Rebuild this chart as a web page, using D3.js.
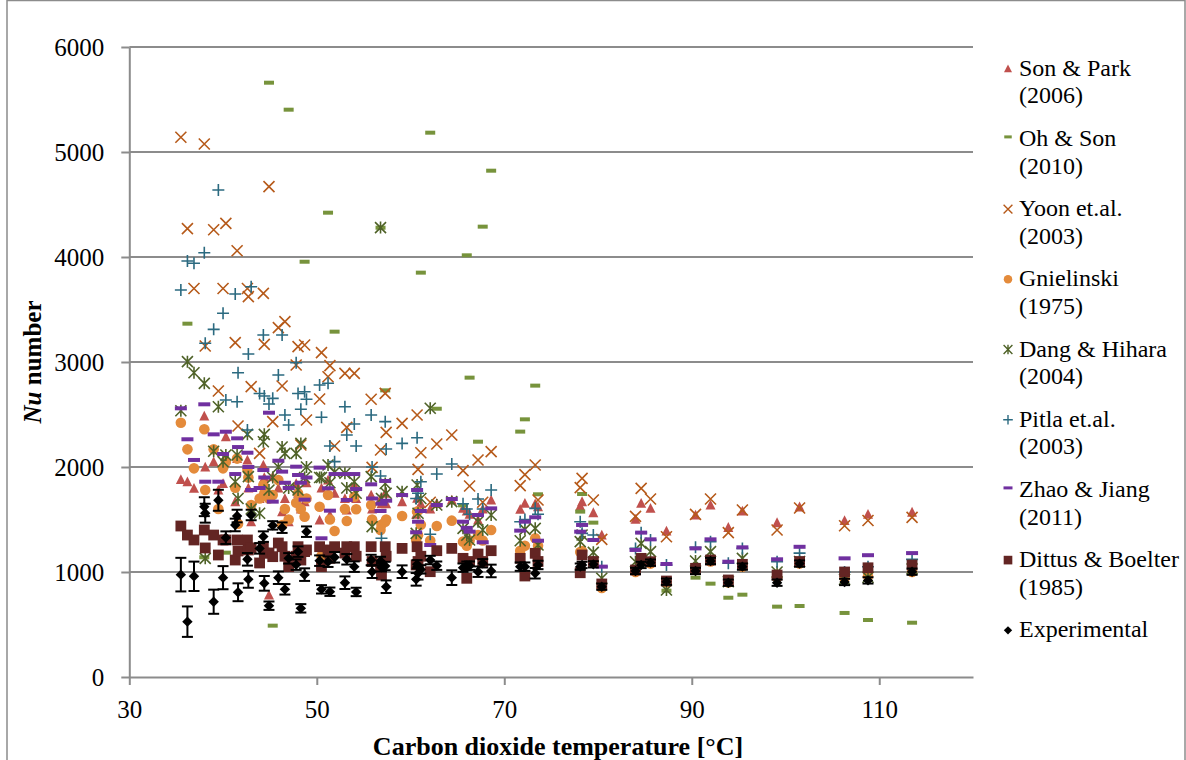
<!DOCTYPE html>
<html>
<head>
<meta charset="utf-8">
<script src="https://cdn.jsdelivr.net/npm/d3@7"></script>
<style>
  body { margin: 0; background: #fff; }
  svg { display: block; }
</style>
</head>
<body>
<svg id="chart" width="1186" height="760"></svg>
<script>
// CO2 temperature of each test point [°C]
let temps = [35.5, 36.2, 36.9, 38.0, 38.1, 39.0, 39.5, 40.0, 40.3, 41.3,
  41.5, 41.6, 42.6, 42.7, 43.0, 43.9, 44.3, 44.4, 44.9, 45.3,
  45.9, 46.3, 46.6, 47.0, 47.8, 48.0, 48.3, 48.7, 48.9, 50.3,
  50.5, 51.2, 51.4, 51.9, 53.0, 53.2, 54.0, 54.2, 55.8, 55.9,
  56.8, 56.9, 57.3, 57.4, 59.1, 60.6, 60.7, 60.8, 61.1, 62.1,
  62.8, 64.4, 65.6, 66.0, 66.3, 67.2, 67.7, 68.6, 71.7, 72.2,
  73.3, 73.6, 78.1, 78.3, 79.5, 80.4, 84.0, 84.6, 85.6, 87.3,
  90.4, 92.0, 93.9, 95.4, 99.1, 101.5, 106.3, 108.8, 113.5];

let sonPark = [1880, 1860, 1797, 2486, 2000, 2050, 1780, 1843, 2289, 1670,
  2080, 1500, 2067, 1800, 1479, 1700, 2019, 1900, 781, 1908,
  1800, 1575, 1700, 1479, 1843, 1750, 1600, 1670, 1850, 1495,
  1800, 1876, 1543, 1750, 1700, 1590, 1829, 1700, 1733, 1600,
  1700, 1650, 1749, 1650, 1670, 1550, 1702, 1600, 1650, 1600,
  1654, 1686, 1606, 1580, 1550, 1495, 1600, 1686, 1597, 1654,
  1650, 1622, 1629, 1670, 1565, 1352, 1502, 1654, 1606, 1390,
  1543, 1638, 1425, 1581, 1470, 1620, 1490, 1550, 1570];

let ohSon = [null, 3365, null, 1140, null, null, null, null, 1184, null,
  null, null, null, null, null, null, null, null, 5660, 489,
  null, null, null, 5403, null, null, null, 3955, null, null,
  null, 4422, null, 3289, null, null, null, null, null, null,
  4279, null, 2730, null, null, null, null, null, 3851, 5184,
  2555, null, 1635, 4016, 2851, 2241, 4289, 4822, 2337, 2454,
  2775, 1740, 1575, 1743, 1470, 870, null, null, 1089, 822,
  946, 889, 755, 784, 670, 676, 610, 543, 517];

let yoon = [5140, 4270, 3700, 5076, 3152, 4260, 2724, 3700, 4320, 3184,
  4060, 2390, 3700, 3622, 2765, 2130, 3654, 3168, 4670, 2432,
  3327, 2771, 3384, null, 2971, 3146, 2210, 3162, 2448, 2648,
  3089, 2860, 2965, 2200, 2892, 2378, 2892, null, 2645, 1997,
  2162, null, 2701, 2330, 2416, null, 2495, 1978, 2136, 1664,
  2219, 2305, 1965, null, 1819, 2067, 1664, 2146, 1822, 1927,
  2019, 1686, 1803, 1892, 1686, 1311, 1530, 1797, 1695, 1336,
  1549, 1695, 1375, 1590, 1400, 1610, 1440, 1490, 1520];

let gnielinski = [2422, 2168, 1987, 2359, 1781, 2168, 1600, 1987, 2050, 1803,
  2080, 1460, 1971, 1900, 1638, 1700, 1829, 1750, 1700, 1733,
  1876, 1448, 1600, 1500, 1660, 1750, 1600, 1527, 1700, 1622,
  1155, 1733, 1500, 1390, 1600, 1486, 1717, 1597, 1638, 1500,
  1400, 1450, 1479, 1500, 1533, 1305, 1575, 1350, 1450, 1300,
  1438, 1489, 1289, 1250, 1300, 1352, 1300, 1400, 1203, 1250,
  1321, 1250, 1190, 1200, 1100, 848, 1000, 1100, 1080, 900,
  1020, 1100, 900, 1050, 950, 1080, 940, 960, 1000];

let dangHihara = [2536, 3003, 2898, 2797, 1130, 2150, 2574, 2050, 2114, 1860,
  2114, 1700, 2311, 1908, 1600, 1559, 2241, 2311, 1781, 1900,
  2000, 2190, 2130, 1800, 2130, 1781, 2225, 1900, 2000, 1900,
  1900, 2019, 1850, 1950, 1940, 1800, 1860, 1750, 1908, 1432,
  4280, 1700, 1843, 1750, 1765, 1368, 1829, 1559, 1700, 2559,
  1638, 1670, 1416, 1350, 1305, 1479, 1400, 1543, 1298, 1406,
  1416, 1257, 1289, 1352, 1187, 940, 1098, 1273, 1194, 829,
  1105, 1194, 908, 1130, 1000, 1100, 930, 950, 1030];

let pitla = [3686, 3962, 3940, 4041, 3178, 3311, 4638, 3464, 2638, 3648,
  2622, 2898, 2352, 3076, 3717, 2700, 3257, 2676, 2600, 2654,
  2876, 3257, 2495, 2400, 2993, 2700, 2550, 2717, 2645, 2781,
  2474, 2797, 2200, 2051, 2574, 2305, 2410, 2200, 2495, 2000,
  1914, 1321, 2432, 2171, 2225, 1700, 2279, 1750, 1860, 1359,
  1933, 2029, 1650, 1600, 1550, 1695, 1600, 1781, 1479, 1500,
  1606, 1550, 1479, 1368, 1352, 1051, 1225, 1375, 1305, 1067,
  1235, 1289, 1083, 1225, 1098, 1180, 1000, 1050, 1120];

let zhaoJiang = [2559, 2264, 2067, 2597, 1860, 2311, 1860, 2124, 2336, 1933,
  2273, 2190, 2136, 2000, 1781, 1800, 1971, 1900, 2517, 1670,
  2060, 1956, 1850, 1800, 2003, 1924, 1850, 1689, 1900, 1994,
  1321, 1797, 1584, 1933, 1933, 1686, 1933, 1790, 1835, 1700,
  1581, 1650, 1867, 1679, 1733, 1378, 1781, 1479, 1581, 1257,
  1638, 1695, 1479, 1420, 1384, 1543, 1283, 1606, 1394, 1479,
  1521, 1298, 1384, 1448, 1305, 1051, 1210, 1375, 1311, 1076,
  1225, 1311, 1098, 1235, 1121, 1240, 1130, 1160, 1180];

let dittusBoelter = [1438, 1352, 1305, 1400, 1229, 1352, 1162, 1305, 1305, 1114,
  1305, 1200, 1305, 1210, 1230, 1086, 1240, 1180, 1181, 1146,
  1276, 1241, 1150, 1051, 1150, 1241, 1114, 1194, 1210, 1241,
  1051, 1210, 1130, 1241, 1180, 1241, 1241, 1150, 1241, 1100,
  1051, 971, 1241, 1150, 1225, 1067, 1241, 1100, 1150, 1003,
  1203, 1225, 1130, 940, 1100, 1171, 1100, 1203, 1130, 962,
  1178, 1100, 993, 1162, 1100, 886, 1019, 1130, 1098, 914,
  1035, 1114, 924, 1073, 971, 1100, 1000, 1040, 1067];

let experimental = [975, 527, 959, 1622, 1560, 717, 1683, 946, 1327, 1448,
  1533, 807, 1121, 930, 1543, 1225, 1337, 892, 679, 1444,
  946, 1422, 835, 1130, 1070, 1194, 654, 975, 1384, 1108,
  835, 1098, 812, 1140, 898, 1121, 1051, 810, 1114, 1003,
  1105, 1045, 1057, 860, 1003, 930, 1073, 988, 1025, 1114,
  1060, 946, 1041, 1060, 1060, 1003, 1083, 1010, 1051, 1051,
  988, 1067, 1051, 1067, 1073, 860, 1010, 1067, 1089, 908,
  1010, 1105, 898, 1051, 898, 1080, 905, 920, 1003];

// +/- uncertainty of the experimental Nu
let expError = [160, 145, 140, 90, 90, 115, 100, 110, 60, 60,
  60, 85, 60, 80, 50, 50, 50, 70, 40, 40,
  60, 50, 50, 50, 50, 50, 40, 60, 50, 50,
  40, 50, 40, 50, 60, 50, 50, 40, 50, 60,
  40, 40, 40, 60, 60, 60, 40, 60, 40, 40,
  40, 70, 40, 40, 40, 50, 40, 60, 40, 40,
  50, 40, 30, 30, 30, 30, 30, 30, 30, 30,
  30, 30, 30, 30, 30, 30, 30, 30, 30];

let xTicks = [30, 50, 70, 90, 110];
let yTicks = [0, 1000, 2000, 3000, 4000, 5000, 6000];

let series = [
  { name: ["Son & Park", "(2006)"], values: sonPark, marker: "triangle", color: "#C0504D" },
  { name: ["Oh & Son", "(2010)"], values: ohSon, marker: "dashS", color: "#77933C" },
  { name: ["Yoon et.al.", "(2003)"], values: yoon, marker: "cross", color: "#B65A1A" },
  { name: ["Gnielinski", "(1975)"], values: gnielinski, marker: "circle", color: "#E48B3B" },
  { name: ["Dang & Hihara", "(2004)"], values: dangHihara, marker: "star", color: "#4F6228" },
  { name: ["Pitla et.al.", "(2003)"], values: pitla, marker: "plus", color: "#2B6A80" },
  { name: ["Zhao & Jiang", "(2011)"], values: zhaoJiang, marker: "dashL", color: "#7030A0" },
  { name: ["Dittus & Boelter", "(1985)"], values: dittusBoelter, marker: "square", color: "#632523" },
  { name: ["Experimental"], values: experimental, marker: "diamond", color: "#000000" }
];

let serif = "'Liberation Serif'";
let svg = d3.select("#chart");
let gray = "#8c8c8c";

let x = d3.scaleLinear().domain([30, 120]).range([129.3, 973]);
let y = d3.scaleLinear().domain([0, 6000]).range([677, 47]);

function label(parent, px, py, size, str, anchor, weight) {
  return parent.append("text")
    .attr("x", px).attr("y", py)
    .attr("text-anchor", anchor || "start")
    .style("font-family", serif)
    .style("font-size", size + "px")
    .style("font-weight", weight || "normal")
    .style("fill", "#000")
    .text(str);
}

// outer chart border
svg.append("rect")
  .attr("x", 7).attr("y", 0.5)
  .attr("width", 1178).attr("height", 800)
  .attr("fill", "none").attr("stroke", gray).attr("stroke-width", 1.5);

// horizontal gridlines
svg.append("g")
  .selectAll("line")
  .data(yTicks.filter(d => d > 0))
  .enter()
  .append("line")
  .attr("x1", x(30)).attr("x2", x(120))
  .attr("y1", d => y(d)).attr("y2", d => y(d))
  .style("stroke", gray).style("stroke-width", 2);

let yAxis = svg.append("g")
  .attr("transform", `translate(${x(30)},0)`)
  .call(d3.axisLeft(y).tickValues(yTicks).tickFormat("").tickSize(8).tickSizeOuter(0));
let xAxis = svg.append("g")
  .attr("transform", `translate(0,${y(0)})`)
  .call(d3.axisBottom(x).tickValues(xTicks).tickFormat("").tickSize(8).tickSizeOuter(0));

[yAxis, xAxis].forEach(ax => {
  ax.select(".domain").attr("stroke", gray).attr("stroke-width", 2);
  ax.selectAll(".tick line").attr("stroke", gray).attr("stroke-width", 2);
  ax.selectAll(".tick text").remove();
});

// tick labels
yAxis.selectAll(".tick").each(function (d) {
  label(d3.select(this), -25, 8.5, 25, d3.format("d")(d), "end");
});
xAxis.selectAll(".tick").each(function (d) {
  label(d3.select(this), 0, 41, 25, d3.format("d")(d), "middle");
});

// axis titles
label(svg, 558, 755, 26, "Carbon dioxide temperature [°C]", "middle", "bold");

let yTitle = svg.append("text")
  .attr("transform", "translate(41,362) rotate(-90)")
  .attr("text-anchor", "middle")
  .style("font-family", serif)
  .style("font-size", "25px")
  .style("font-weight", "bold");
yTitle.append("tspan").style("font-style", "italic").text("Nu");
yTitle.append("tspan").text(" number");

// marker shapes, centred on 0,0
function markerPath(type, s) {
  switch (type) {
    case "triangle": return `M0,${-5.3 * s}L${5 * s},${4.5 * s}L${-5 * s},${4.5 * s}Z`;
    case "square": return `M${-5.4 * s},${-5.4 * s}h${10.8 * s}v${10.8 * s}h${-10.8 * s}Z`;
    case "diamond": return `M0,${-5.2 * s}L${5.2 * s},0L0,${5.2 * s}L${-5.2 * s},0Z`;
    case "circle": return `M${-5.3 * s},0a${5.3 * s},${5.3 * s} 0 1,0 ${10.6 * s},0a${5.3 * s},${5.3 * s} 0 1,0 ${-10.6 * s},0Z`;
    case "dashS": return `M${-5 * s},${-2 * s}h${10 * s}v${4 * s}h${-10 * s}Z`;
    case "dashL": return `M${-6 * s},${-2 * s}h${12 * s}v${4 * s}h${-12 * s}Z`;
    case "cross": return `M${-5.5 * s},${-5.5 * s}L${5.5 * s},${5.5 * s}M${5.5 * s},${-5.5 * s}L${-5.5 * s},${5.5 * s}`;
    case "plus": return `M${-6 * s},0H${6 * s}M0,${-6 * s}V${6 * s}`;
    case "star": return `M${-5.5 * s},${-5.5 * s}L${5.5 * s},${5.5 * s}M${5.5 * s},${-5.5 * s}L${-5.5 * s},${5.5 * s}M0,${-6 * s}V${6 * s}`;
  }
}
let stroked = ["cross", "plus", "star"];

function paint(sel, s, w) {
  if (stroked.includes(s.marker)) {
    sel.attr("fill", "none").attr("stroke", s.color).attr("stroke-width", w);
  } else {
    sel.attr("fill", s.color);
  }
}

// error bars of the experimental points
let errData = temps.map((t, i) => ({ t: t, v: experimental[i], e: expError[i] }));

series.forEach(s => {
  if (s.marker == "diamond") {
    let errG = svg.append("g").attr("stroke", "#000").attr("stroke-width", 2);
    errG.selectAll("line.v").data(errData).enter().append("line")
      .attr("x1", d => x(d.t)).attr("x2", d => x(d.t))
      .attr("y1", d => y(d.v - d.e)).attr("y2", d => y(d.v + d.e));
    errG.selectAll("line.top").data(errData).enter().append("line")
      .attr("x1", d => x(d.t) - 5.5).attr("x2", d => x(d.t) + 5.5)
      .attr("y1", d => y(d.v + d.e)).attr("y2", d => y(d.v + d.e));
    errG.selectAll("line.bot").data(errData).enter().append("line")
      .attr("x1", d => x(d.t) - 5.5).attr("x2", d => x(d.t) + 5.5)
      .attr("y1", d => y(d.v - d.e)).attr("y2", d => y(d.v - d.e));
  }
  let pts = temps.map((t, i) => ({ t: t, v: s.values[i] })).filter(d => d.v != null);
  svg.append("g")
    .selectAll("path")
    .data(pts)
    .enter()
    .append("path")
    .attr("transform", d => `translate(${x(d.t)},${y(d.v)})`)
    .attr("d", markerPath(s.marker, 1))
    .call(paint, s, 1.6);
});

// legend
let legendX = 1008;
let legendTop = 75.7;
let legendGap = 70.2;
let legend = svg.append("g");
series.forEach((s, i) => {
  let base = legendTop + i * legendGap;
  let dash = s.marker.startsWith("dash");
  legend.append("path")
    .attr("transform", `translate(${legendX},${base - (dash ? 9 : 7)})`)
    .attr("d", markerPath(s.marker, dash ? 0.75 : 0.8))
    .call(paint, s, 1.4);
  s.name.forEach((line, j) => {
    label(legend, legendX + 11, base + j * 27.6, 24, line);
  });
});
</script>
</body>
</html>
